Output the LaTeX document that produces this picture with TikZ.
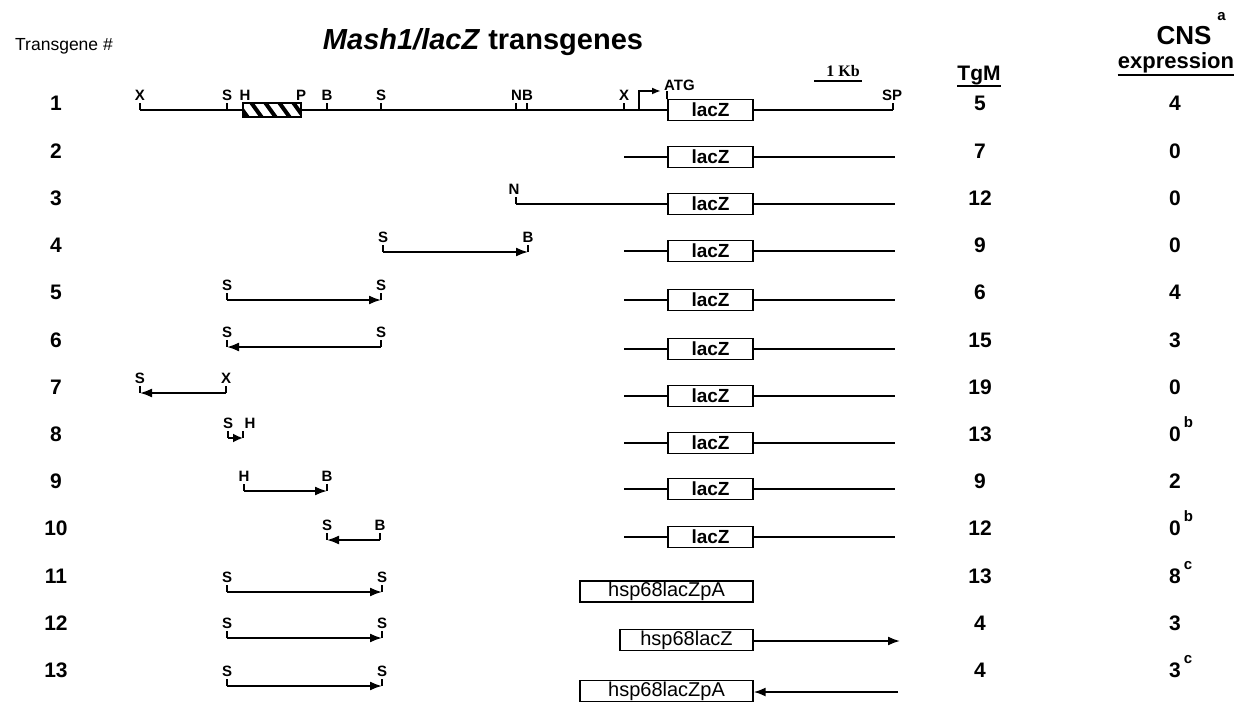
\documentclass[tikz,border=0pt]{standalone}
\usepackage{fontspec}
\setmainfont{Liberation Sans}
\newfontfamily\serifface{Liberation Serif}
\usetikzlibrary{arrows.meta}
\newcommand{\supl}[1]{\rlap{\hspace{3pt}\raisebox{14pt}{\fontsize{15}{15}\selectfont #1}}}
\newcommand{\fragrow}[7]{%
  \coordinate (#1L) at (#3,#2);
  \coordinate (#1R) at (#5,#2);
  \draw[sitetick] (#1L) -- ++(0,-7);
  \draw[sitetick] (#1R) -- ++(0,-7);
  \node[sitelab] (#1l) at (#3,#2-15) {#4};
  \node[sitelab] (#1r) at (#5,#2-15) {#6};
  \draw[dna,#7] (#1L) -- (#1R);
}
\newcommand{\lacrow}[3]{%
  \coordinate (#1s) at (#3,#2);
  \coordinate (#1e) at (895,#2);
  \draw[dna] (#1s) -- (#1e);
  \node[laczbox] (#1z) at (710.5,#2) {lacZ};
}
\tikzset{
  dna/.style={line width=1.8pt},
  sitetick/.style={line width=1.8pt},
  sitelab/.style={font=\fontsize{15}{15}\selectfont\bfseries, inner sep=0pt},
  rownum/.style={font=\fontsize{21}{21}\selectfont\bfseries, inner sep=0pt, anchor=base},
  laczbox/.style={draw, line width=1.3pt, fill=white, minimum width=85pt, minimum height=21pt, inner sep=0pt, font=\fontsize{19}{19}\selectfont\bfseries},
  hspbox/.style={draw, line width=1.3pt, fill=white, minimum height=21pt, inner sep=0pt, font=\fontsize{20}{20}\selectfont},
  fwd/.style={-{Latex[length=12pt,width=9pt]}},
  rev/.style={{Latex[length=12pt,width=9pt]}-},
  headb/.style={inner sep=0pt, anchor=base},
}
\begin{document}
\begin{tikzpicture}[x=1pt,y=-1pt]
\useasboundingbox[fill=white] (0,0) rectangle (1249,703);

% headers
\node[headb, font=\fontsize{17.5}{17.5}\selectfont] (tghead) at (64,51) {Transgene \#};
\node[headb, font=\fontsize{29}{29}\selectfont\bfseries] (title) at (483,50) {\textit{Mash1/lacZ} transgenes};
\node[headb, font=\fontsize{21}{21}\selectfont\bfseries] (tgm) at (979,81) {TgM};
\draw[line width=1.8pt] ([yshift=-5pt]tgm.base west) -- ([yshift=-5pt]tgm.base east);
\node[headb, font=\fontsize{26}{26}\selectfont\bfseries] (cns) at (1184,45) {CNS\rlap{\hspace{6pt}\raisebox{24pt}{\fontsize{15}{15}\selectfont a}}};
\node[headb, font=\fontsize{22}{22}\selectfont\bfseries] (expr) at (1176,69) {expression};
\draw[line width=1.8pt] ([yshift=-6pt]expr.base west) -- ([yshift=-6pt]expr.base east);

% scale bar
\coordinate (kbL) at (814,81);
\coordinate (kbR) at (862,81);
\draw[line width=1.5pt] (kbL) -- (kbR);
\node[headb, font=\fontsize{16}{16}\selectfont\serifface\bfseries] (kb) at (843,77) {1 Kb};

% row 1
\coordinate (x1a) at (140,110);
\coordinate (s1a) at (227,110);
\coordinate (b1a) at (327,110);
\coordinate (s1b) at (381,110);
\coordinate (n1a) at (516,110);
\coordinate (b1b) at (527,110);
\coordinate (x1b) at (624,110);
\coordinate (sp1) at (893,110);
\draw[dna] (x1a) -- (sp1);
\foreach \c in {x1a,s1a,b1a,s1b,n1a,b1b,x1b,sp1} \draw[sitetick] (\c) -- ++(0,-7);
\node[draw, line width=1.3pt, fill=white, minimum width=58pt, minimum height=14pt, inner sep=0pt] (hatch) at (272,110) {};
\begin{scope}
  \clip (hatch.south west) rectangle (hatch.north east);
  \foreach \x in {236,250,264,278,292} \draw[line width=4pt] (\x,101) -- (\x+13,119);
\end{scope}
\draw[line width=1.3pt] (hatch.south west) rectangle (hatch.north east);
\node[sitelab] (lx1a) at (140,95) {X};
\node[sitelab] (ls1a) at (227,95) {S};
\node[sitelab] (lh1) at (245,95) {H};
\node[sitelab] (lp1) at (301,95) {P};
\node[sitelab] (lb1a) at (327,95) {B};
\node[sitelab] (ls1b) at (381,95) {S};
\node[sitelab] (lnb1) at (522,95) {NB};
\node[sitelab] (lx1b) at (624,95) {X};
\node[sitelab] (lsp1) at (892,95) {SP};
\coordinate (prom) at (639,110);
\coordinate (promtop) at (639,91);
\coordinate (promend) at (661,91);
\draw[line width=1.8pt, -{Latex[length=9pt,width=7pt]}] (prom) -- (promtop) -- (promend);
\node[laczbox, minimum height=21pt] (lz1) at (710.5,110) {lacZ};
\coordinate (atg) at (667,99.5);
\draw[sitetick] (atg) -- ++(0,-8);
\node[sitelab, anchor=west] (latg) at (664,85) {ATG};

% rows 2-10, right part
\lacrow{r2}{157}{624}
\coordinate (n3) at (516,204);
\draw[sitetick] (n3) -- ++(0,-7);
\node[sitelab] (ln3) at (514,189) {N};
\lacrow{r3}{204}{516}
\lacrow{r4}{251}{624}
\lacrow{r5}{300}{624}
\lacrow{r6}{349}{624}
\lacrow{r7}{396}{624}
\lacrow{r8}{443}{624}
\lacrow{r9}{489}{624}
\lacrow{r10}{537}{624}

% left fragments
\fragrow{f4}{252}{383}{S}{528}{B}{fwd}
\fragrow{f5}{300}{227}{S}{381}{S}{fwd}
\fragrow{f6}{347}{227}{S}{381}{S}{rev}
\fragrow{f7}{393}{140}{S}{226}{X}{rev}
% row 8
\coordinate (f8L) at (228,438);
\coordinate (f8R) at (243,438);
\draw[sitetick] (f8L) -- ++(0,-7);
\draw[sitetick] (f8R) -- ++(0,-7);
\node[sitelab] (f8l) at (228,423) {S};
\node[sitelab] (f8r) at (250,423) {H};
\draw[dna, -{Latex[length=10pt,width=9pt]}] (f8L) -- (f8R);
\fragrow{f9}{491}{244}{H}{327}{B}{fwd}
\fragrow{f10}{540}{327}{S}{380}{B}{rev}
\fragrow{f11}{592}{227}{S}{382}{S}{fwd}
\fragrow{f12}{638}{227}{S}{382}{S}{fwd}
\fragrow{f13}{686}{227}{S}{382}{S}{fwd}

% rows 11-13 right part
\node[hspbox, minimum width=173pt] (h11) at (666.5,591.5) {hsp68lacZpA};
\node[hspbox, minimum width=133pt] (h12) at (686.5,640) {hsp68lacZ};
\coordinate (a12) at (900,641);
\draw[dna, fwd] (h12.east |- a12) -- (a12);
\node[hspbox, minimum width=173pt] (h13) at (666.5,691) {hsp68lacZpA};
\coordinate (a13) at (898,692);
\draw[dna, fwd] (a13) -- (h13.east |- a13);

% numbers and values
\foreach \k/\tg/\cv in {1/5/4, 2/7/0, 3/12/0, 4/9/0, 5/6/4, 6/15/3, 7/19/0, 8/13/{0\supl{b}}, 9/9/2, 10/12/{0\supl{b}}, 11/13/{8\supl{c}}, 12/4/3, 13/4/{3\supl{c}}} {
  \node[rownum] (num\k) at (56,{111+47.2*(\k-1)}) {\k};
  \node[rownum] (tg\k) at (980,{111+47.2*(\k-1)}) {\tg};
  \node[rownum] (cns\k) at (1175,{111+47.2*(\k-1)}) {\cv};
}
\end{tikzpicture}
\end{document}
